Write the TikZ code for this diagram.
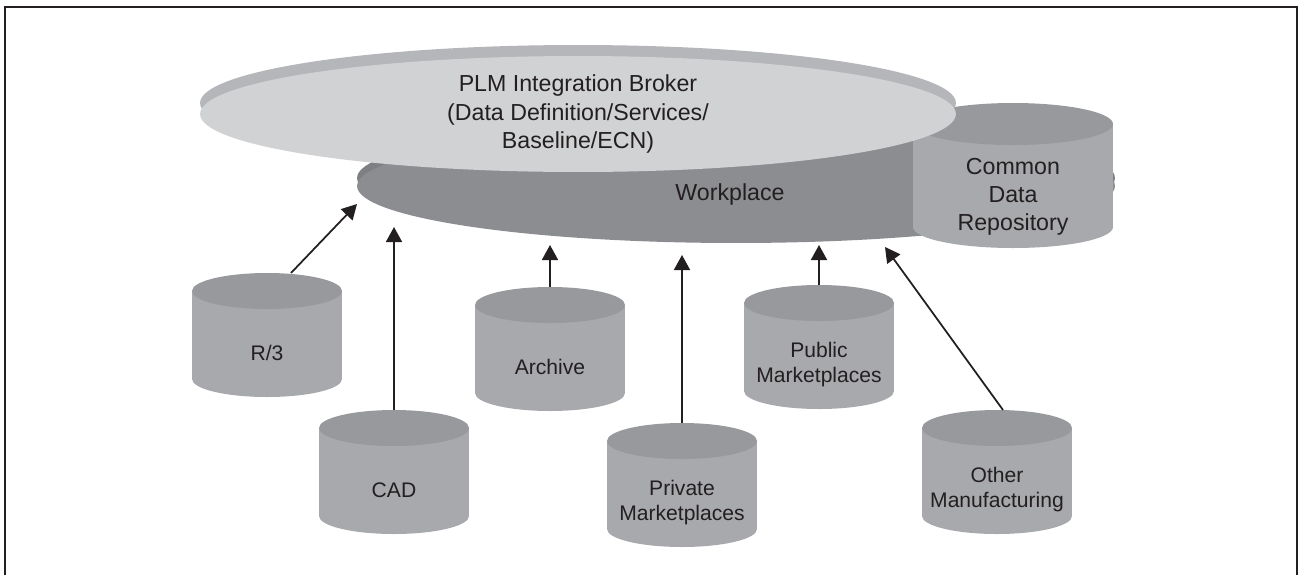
\documentclass[tikz,border=0pt]{standalone}
\usepackage{fontspec}
\setmainfont{Liberation Sans}
\usetikzlibrary{arrows.meta}
\definecolor{brokerfill}{HTML}{D1D2D4}
\definecolor{brokerrim}{HTML}{B5B6B9}
\definecolor{workfill}{HTML}{8C8D90}
\definecolor{workrim}{HTML}{7E7F82}
\definecolor{cylbody}{HTML}{A8A9AC}
\definecolor{cyltop}{HTML}{98999C}
\definecolor{inkc}{HTML}{231F20}
\tikzstyle{node_text} = [inner sep=0pt, align=center, text=inkc, font=\fontsize{13.2}{16}\selectfont]
\tikzstyle{node_broker} = [node_text, font=\fontsize{13.2}{16.5}\selectfont]
\tikzstyle{node_cyl} = [inner sep=0pt, align=center, text=inkc, font=\fontsize{12}{14.2}\selectfont]
\tikzstyle{edge_flow} = [-{Triangle[length=0.3cm,width=0.32cm]}, line width=1pt, draw=inkc]
\tikzstyle{frame_line} = [line width=1pt, draw=inkc]
% cylinder: half width, end radius, height (all in px), text, extra node options
\tikzset{pics/dbase/.style n args={5}{code={
  \fill[cylbody] (-#1,#2) rectangle (#1,#3-#2);
  \fill[cylbody] (0,#3-#2) ellipse [x radius={#1*0.02cm}, y radius={#2*0.02cm}];
  \fill[cyltop] (0,#2) ellipse [x radius={#1*0.02cm}, y radius={#2*0.02cm}];
  \coordinate (-top) at (0,0);
  \node[node_cyl, #5] (-label) at (0,{#2+#3/2}) {#4};
}}}

\begin{document}
\begin{tikzpicture}[x=0.02cm, y=-0.02cm]
			\useasboundingbox (0,0) rectangle (1301,575);
			\draw[frame_line] (5,575) -- (5,7) -- (1297,7) -- (1297,575);
			% workplace disc
			\fill[workrim] (736,178) ellipse [x radius=7.58cm, y radius=1.14cm];
			\fill[workfill] (736,186) ellipse [x radius=7.58cm, y radius=1.14cm];
			\node (W) at (730,194) [node_text] {Workplace};
			\pic (cdr) at (1013,103) {dbase={100}{21}{145}{Common\\Data\\Repository}{font=\fontsize{13.2}{16}\selectfont}};
			% broker disc
			\fill[brokerrim] (578,103) ellipse [x radius=7.56cm, y radius=1.16cm];
			\fill[brokerfill] (578,114) ellipse [x radius=7.56cm, y radius=1.16cm];
			\node (P) at (578,114) [node_broker] {PLM Integration Broker\\(Data Definition/Services/\\Baseline/ECN)};
			% sources
			\pic (r3) at (267,273) {dbase={75}{18}{124}{R/3}{}};
			\pic (cad) at (394,410) {dbase={75}{18}{124}{CAD}{}};
			\pic (arch) at (550,287) {dbase={75}{18}{124}{Archive}{}};
			\pic (priv) at (682,423) {dbase={75}{18}{124}{Private\\Marketplaces}{}};
			\pic (pub) at (819,285) {dbase={75}{18}{124}{Public\\Marketplaces}{}};
			\pic (oth) at (997,410) {dbase={75}{18}{124}{Other\\Manufacturing}{}};
			% arrow ends below the workplace
			\coordinate (r3end) at (357,204);
			\coordinate (cadend) at (394,227);
			\coordinate (archend) at (550,245);
			\coordinate (privend) at (682,255);
			\coordinate (pubend) at (819,245);
			\coordinate (othend) at (885,247);
			\draw[edge_flow] ([xshift=0.48cm]r3-top) -- (r3end);
			\draw[edge_flow] (cad-top) -- (cadend);
			\draw[edge_flow] (arch-top) -- (archend);
			\draw[edge_flow] (priv-top) -- (privend);
			\draw[edge_flow] (pub-top) -- (pubend);
			\draw[edge_flow] ([xshift=0.12cm]oth-top) -- (othend);
		\end{tikzpicture}
\end{document}
